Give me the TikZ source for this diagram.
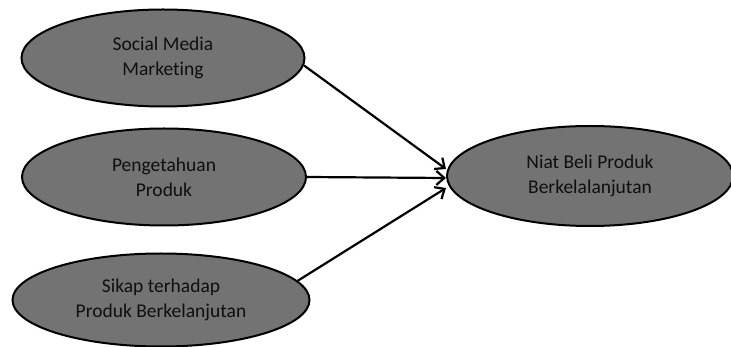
\documentclass[tikz,border=0pt]{standalone}
\usepackage{fontspec}
\setmainfont[Ligatures=NoCommon]{Carlito}
\usetikzlibrary{shapes.geometric,arrows.meta}
\definecolor{ellfill}{RGB}{115,115,115}
\definecolor{txt}{RGB}{15,15,15}
\tikzset{
  var/.style={ellipse, draw=black, line width=2pt, fill=ellfill, inner sep=0pt,
    align=center, text=txt, font=\fontsize{19.5}{25}\selectfont},
  link/.style={line width=2.2pt, -{Straight Barb[length=8pt,width=14pt,line width=2.2pt]}}
}
\begin{document}
\begin{tikzpicture}[x=1pt,y=-1pt]
\useasboundingbox (0,0) rectangle (731,347);
\node[var, minimum width=283pt, minimum height=97pt] (sm) at (163,58) {Social Media\\Marketing};
\node[var, minimum width=284pt, minimum height=97pt] (pk) at (164,177) {Pengetahuan\\Produk};
\node[var, minimum width=297pt, minimum height=93pt] (sk) at (161,300) {Sikap terhadap\\Produk Berkelanjutan};
\node[var, minimum width=286pt, minimum height=100pt] (nb) at (590,176) {Niat Beli Produk\\Berkelalanjutan};
\draw[link] (sm.-3) -- ([yshift=7pt]nb.west);
\draw[link] (pk.east) -- ([yshift=-2pt]nb.west);
\draw[link] (sk.8) -- ([yshift=-12pt]nb.west);
\end{tikzpicture}
\end{document}
